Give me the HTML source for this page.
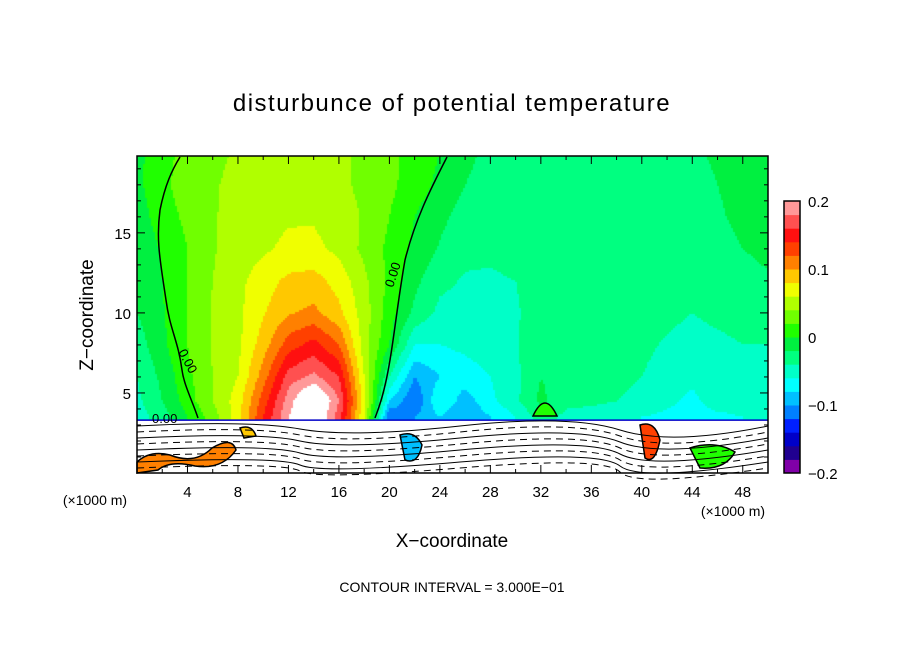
<!DOCTYPE html>
<html><head><meta charset="utf-8"><style>
body{margin:0;background:#fff;width:904px;height:654px;overflow:hidden;position:relative;font-family:"Liberation Sans",sans-serif}
canvas{position:absolute;left:137px;top:156px}
svg{position:absolute;left:0;top:0}
</style></head><body>
<canvas id="cv" width="631" height="317"></canvas>
<svg id="sv" width="904" height="654">
<text x="452" y="111" font-size="24" text-anchor="middle" letter-spacing="1.5">disturbunce of potential temperature</text>
<text x="452" y="547" font-size="19" text-anchor="middle">X−coordinate</text>
<text transform="translate(93,315) rotate(-90)" font-size="19" text-anchor="middle">Z−coordinate</text>
<text x="452" y="592" font-size="14" text-anchor="middle">CONTOUR INTERVAL = 3.000E−01</text>
<text x="95" y="505" font-size="14" text-anchor="middle">(×1000 m)</text>
<text x="733" y="516" font-size="14" text-anchor="middle">(×1000 m)</text>
<g id="ground"></g>
<g id="ticks"></g>
<g id="cbar"></g>
</svg>
<script>
const xs=[0,2,4,6,8,10,12,14,16,18,20,22,24,26,28,30,32,34,36,38,40,42,44,46,48,50];
const zs=[3.5,4.5,6,8,10,12,14,16,18,20];
const row35=[-0.05,-0.03,0.0,0.03,0.07,0.14,0.2,0.23,0.17,0.06,-0.12,-0.1,-0.08,-0.1,-0.08,-0.06,-0.03,-0.045,-0.05,-0.055,-0.06,-0.065,-0.07,-0.065,-0.06,-0.06];
const row45=[-0.045,-0.02,0.01,0.04,0.07,0.13,0.19,0.24,0.18,0.07,-0.08,-0.12,-0.06,-0.09,-0.065,-0.045,-0.015,-0.035,-0.035,-0.04,-0.045,-0.055,-0.065,-0.05,-0.05,-0.05];
const row6=[-0.04,-0.015,0.015,0.04,0.06,0.11,0.17,0.185,0.16,0.06,-0.04,-0.1,-0.08,-0.07,-0.06,-0.045,-0.02,-0.03,-0.032,-0.035,-0.04,-0.048,-0.055,-0.05,-0.045,-0.045];
const row8=[-0.03,-0.005,0.02,0.042,0.055,0.09,0.13,0.148,0.12,0.05,0.0,-0.06,-0.06,-0.055,-0.05,-0.042,-0.025,-0.022,-0.028,-0.032,-0.036,-0.042,-0.046,-0.044,-0.04,-0.04];
const row10=[-0.02,-0.002,0.02,0.042,0.055,0.078,0.098,0.105,0.085,0.05,0.01,-0.025,-0.045,-0.048,-0.048,-0.042,-0.032,-0.03,-0.03,-0.03,-0.032,-0.036,-0.04,-0.036,-0.033,-0.03];
const row12=[-0.015,0.0,0.02,0.04,0.055,0.07,0.085,0.088,0.072,0.045,0.015,-0.015,-0.035,-0.042,-0.043,-0.04,-0.033,-0.031,-0.031,-0.031,-0.031,-0.031,-0.031,-0.03,-0.026,-0.022];
const row14=[-0.015,0.002,0.02,0.038,0.05,0.057,0.064,0.065,0.055,0.035,0.015,-0.005,-0.022,-0.035,-0.036,-0.032,-0.031,-0.031,-0.031,-0.031,-0.031,-0.031,-0.03,-0.026,-0.02,-0.016];
const row16=[-0.01,0.01,0.025,0.038,0.048,0.054,0.058,0.058,0.05,0.038,0.02,0.0,-0.015,-0.028,-0.03,-0.03,-0.03,-0.03,-0.03,-0.03,-0.03,-0.03,-0.028,-0.022,-0.016,-0.014];
const row18=[-0.005,0.015,0.03,0.038,0.045,0.05,0.052,0.05,0.045,0.035,0.025,0.01,-0.005,-0.02,-0.028,-0.028,-0.028,-0.028,-0.028,-0.028,-0.028,-0.027,-0.025,-0.02,-0.015,-0.012];
const row20=[-0.005,0.012,0.028,0.036,0.042,0.048,0.05,0.048,0.044,0.035,0.025,0.012,0.0,-0.015,-0.025,-0.025,-0.025,-0.025,-0.025,-0.025,-0.025,-0.025,-0.022,-0.018,-0.012,-0.01];
const grid=[row35,row45,row6,row8,row10,row12,row14,row16,row18,row20];
const binColors=["#8000a8","#200090","#0000c8","#0020ff","#0080ff","#00c0ff","#00ffff","#00ffc8","#00ff80","#00f040","#20ff00","#70ff00","#b0ff00","#f0ff00","#ffc800","#ff8000","#ff4000","#ff1010","#ff5050","#ff9898"];
const cbLabels=["0.2","0.1","0","−0.1","−0.2"];const cbVals=[0.2,0.1,0,-0.1,-0.2];
const xTicks=[4,8,12,16,20,24,28,32,36,40,44,48];const zTicks=[5,10,15];
const X0=137,X1=768,Y0=473,Y1=156,XMAX=50,ZMAX=19.8,ZG=3.3;
const sx=v=>X0+(v/XMAX)*(X1-X0), sz=v=>Y0-(v/ZMAX)*(Y0-Y1);
function colorOf(v){if(v>=0.2)return"#ffffff";if(v<-0.2)return binColors[0];return binColors[Math.min(19,Math.floor((v+0.2)/0.02))];}
function valAt(x,z){let i=Math.min(xs.length-2,Math.floor(x/2));let tx=(x-xs[i])/(xs[i+1]-xs[i]);
 let j=0;while(j<zs.length-2&&z>zs[j+1])j++;let tz=Math.max(0,Math.min(1,(z-zs[j])/(zs[j+1]-zs[j])));
 const a=grid[j][i]*(1-tx)+grid[j][i+1]*tx,b=grid[j+1][i]*(1-tx)+grid[j+1][i+1]*tx;return a*(1-tz)+b*tz;}
const ctx=document.getElementById('cv').getContext('2d');
for(let py=0;py<317;py+=2)for(let px=0;px<631;px+=2){const x=(px+1)/631*XMAX,z=(Y0-(Y1+py+1))/(Y0-Y1)*ZMAX;
 if(z<ZG)continue;ctx.fillStyle=colorOf(valAt(x,z));ctx.fillRect(px,py,2,2);}
const NS="http://www.w3.org/2000/svg",sv=document.getElementById('sv');
function mk(t,a,p){const e=document.createElementNS(NS,t);for(const k in a)e.setAttribute(k,a[k]);(p||sv).appendChild(e);return e;}
const g=document.getElementById('ground');
mk('rect',{x:X0,y:sz(ZG),width:X1-X0,height:Y0-sz(ZG),fill:'#fff'},g);
mk('path',{d:`M${X0} ${sz(ZG)} L${X1} ${sz(ZG)}`,stroke:'#0000c8','stroke-width':1.5},g);
const blobs=[["M137 462 Q150 450 170 455 Q195 465 212 448 Q232 436 236 450 Q222 470 195 466 Q170 460 158 470 L137 473Z","#ff8000"],
["M400 435 Q415 430 422 445 Q418 465 405 460Z","#00c0ff"],["M640 425 Q655 420 660 440 Q655 465 645 458Z","#ff4000"],
["M690 448 Q715 440 735 452 Q725 470 700 468Z","#20ff00"],["M240 428 Q252 424 256 436 L244 438Z","#ffc800"]];
blobs.forEach(b=>{const e=mk('path',{d:b[0],fill:b[1],stroke:'#000','stroke-width':1.5},g);});
for(let k=0;k<8;k++){const y=426+k*6;const e=mk('path',{d:`M${X0} ${y} Q${250+k*5} ${y-6} ${300} ${y+3} T${460} ${y} T${620} ${y+4} T${X1} ${y}`,fill:'none',stroke:'#000','stroke-width':1,'stroke-dasharray':k%2?'7 5':'none'},g);
 }
[["M198 418 C192 400 184 385 182 370 C178 340 170 330 166 300 C160 260 156 240 160 210 C165 185 172 170 180 157"],["M375 418 C380 405 385 390 390 360 C395 330 398 300 405 260 C415 220 430 190 447 157"]].forEach(d=>{
 const e=mk('path',{d:d[0],fill:'none',stroke:'#000','stroke-width':1.5});});
mk('text',{x:178,y:352,'font-size':13,transform:'rotate(62 178 352)'}).textContent='0.00';
mk('text',{x:393,y:288,'font-size':13,transform:'rotate(-72 393 288)'}).textContent='0.00';
mk('text',{x:152,y:423,'font-size':13}).textContent='0.00';
mk('path',{d:'M533 416 Q545 390 557 416Z',fill:'#20ff00',stroke:'#000','stroke-width':1.5});
const tk=document.getElementById('ticks');
const fr=mk('rect',{x:X0,y:Y1,width:X1-X0,height:Y0-Y1,fill:'none',stroke:'#000','stroke-width':1.5},tk);

for(let v=2;v<50;v+=2){const L=v%4?4:8;mk('line',{x1:sx(v),x2:sx(v),y1:Y0,y2:Y0-L,stroke:'#000'},tk);mk('line',{x1:sx(v),x2:sx(v),y1:Y1,y2:Y1+L,stroke:'#000'},tk);}
for(let v=1;v<20;v++){const L=v%5?4:8;mk('line',{x1:X0,x2:X0+L,y1:sz(v),y2:sz(v),stroke:'#000'},tk);mk('line',{x1:X1,x2:X1-L,y1:sz(v),y2:sz(v),stroke:'#000'},tk);}
xTicks.forEach(v=>{const t=mk('text',{x:sx(v),y:Y0+24,'font-size':15,'text-anchor':'middle'},tk);t.textContent=v;
 });
zTicks.forEach(v=>{const t=mk('text',{x:X0-6,y:sz(v)+6,'font-size':15,'text-anchor':'end'},tk);t.textContent=v;
 });
const cb=document.getElementById('cbar');const CT=201,CB=473,CX=784,CW=16;
binColors.forEach((c,i)=>{const h=(CB-CT)/20;const r=mk('rect',{x:CX,y:CB-(i+1)*h,width:CW,height:h+0.5,fill:c},cb);
 });
mk('rect',{x:CX,y:CT,width:CW,height:CB-CT,fill:'none',stroke:'#000','stroke-width':1.5},cb);
cbVals.forEach((v,i)=>{const y=CB-(v+0.2)/0.4*(CB-CT);const t=mk('text',{x:808,y:y+6,'font-size':15},cb);t.textContent=cbLabels[i];
 });
</script>
</body></html>
